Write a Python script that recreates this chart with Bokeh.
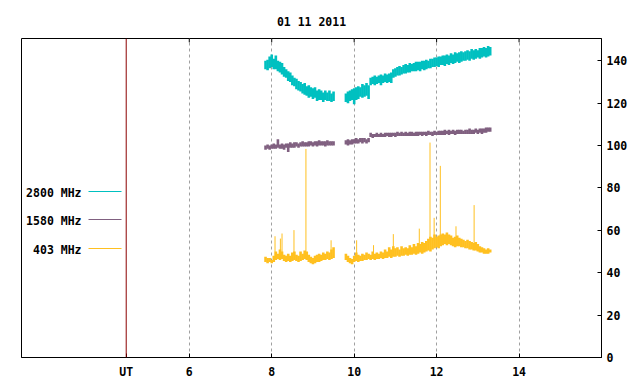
from bokeh.plotting import figure
from bokeh.models import Range1d, FixedTicker, Span, Label, Arrow, ColumnDataSource
from bokeh.embed import file_html
from bokeh.resources import INLINE

TITLE = "01 11 2011"
UT_POS = 4.47
X_TICKS = [6, 8, 10, 12, 14]
Y_TICKS = [0, 20, 40, 60, 80, 100, 120, 140]
SERIES_NAMES = ["2800 MHz", "1580 MHz", "403 MHz"]
SERIES_COLORS = ["#00c0c0", "#806080", "#ffc020"]

# sampling times (UT hours) of the two observing intervals
T1 = [7.85, 7.90, 7.95, 8.00, 8.05, 8.10, 8.15, 8.20, 8.25, 8.30,
      8.35, 8.40, 8.45, 8.50, 8.55, 8.60, 8.65, 8.70, 8.75, 8.80,
      8.85, 8.90, 8.95, 9.00, 9.05, 9.10, 9.15, 9.20, 9.25, 9.30,
      9.35, 9.40, 9.45, 9.50]
T2 = [9.80, 9.85, 9.90, 9.95, 10.00, 10.05, 10.10, 10.15, 10.20, 10.25,
      10.30, 10.35, 10.40, 10.45, 10.50, 10.55, 10.60, 10.65, 10.70, 10.75,
      10.80, 10.85, 10.90, 10.95, 11.00, 11.05, 11.10, 11.15, 11.20, 11.25,
      11.30, 11.35, 11.40, 11.45, 11.50, 11.55, 11.60, 11.65, 11.70, 11.75,
      11.80, 11.85, 11.90, 11.95, 12.00, 12.05, 12.10, 12.15, 12.20, 12.25,
      12.30, 12.35, 12.40, 12.45, 12.50, 12.55, 12.60, 12.65, 12.70, 12.75,
      12.80, 12.85, 12.90, 12.95, 13.00, 13.05, 13.10, 13.15, 13.20, 13.25,
      13.30]

# 2800 MHz: low / high of the noisy band
F2800_LO_1 = [136, 135.5, 136.5, 137, 136, 136, 135, 134.5, 133.5, 132.5,
              132, 130.5, 130, 128.5, 128, 126.5, 126, 125.5, 124.5, 124,
              123.5, 122.5, 123, 122, 122.5, 121, 121.5, 121.5, 120.5, 121.5,
              121, 121, 120.5, 121]
F2800_HI_1 = [140, 140.5, 142, 143, 141, 142.5, 140, 139.5, 139, 137,
              136, 135, 134.5, 133, 132, 131.5, 130.5, 130, 129, 129.5,
              128, 128.5, 127.5, 127, 127.5, 126, 126.5, 126, 125, 126,
              125, 126, 124.5, 125.5]
F2800_LO_2 = [120.5, 120, 121, 121.5, 119.5, 121.5, 122, 123, 122.5, 123,
              123.5, 122, 128.5, 129, 128.5, 129, 129.5, 128.5, 129.5, 130,
              129.5, 130, 129.5, 132, 132.5, 133, 133, 133.5, 134, 134,
              134.5, 134.5, 135, 135, 135, 135.5, 135, 136, 135.5, 136,
              136.5, 136.5, 137, 137, 137.5, 137, 138, 138, 137.5, 138.5,
              138, 139, 138.5, 139, 139.5, 139, 139.5, 140, 140, 140.5,
              140, 141, 140.5, 141, 141.5, 141, 141.5, 142, 141.5, 142,
              142.5]
F2800_HI_2 = [124.5, 125.5, 126, 126.5, 127, 127.5, 128, 127.5, 129, 128.5,
              129.5, 128.5, 132, 132.5, 133, 132.5, 133, 133.5, 133, 134,
              133.5, 134, 134.5, 136, 136.5, 137, 137.5, 137, 138, 138.5,
              138, 139, 138.5, 139, 139.5, 139.5, 139.5, 140, 140, 140.5,
              140, 141, 141, 141.5, 141.5, 142, 142, 142.5, 142.5, 143,
              142.5, 143.5, 143, 144, 143.5, 144, 144.5, 144, 144.5, 145,
              144.5, 145.5, 145, 145.5, 145, 146, 146, 146.5, 146, 147,
              146.5]

# 1580 MHz
F1580_LO_1 = [98, 98.5, 98, 98.5, 98.5, 98.5, 99, 98.5, 98.5, 98,
              99, 97, 99, 99, 99, 99.5, 99, 99.5, 99.5, 99.5,
              99.5, 99.5, 100, 99.5, 100, 99.5, 100, 100, 100, 99.5,
              100, 100, 100, 100]
F1580_HI_1 = [100, 100.5, 100, 100.5, 101, 100.5, 103, 100.5, 101, 100.5,
              101, 101, 101.5, 101, 101.5, 101.5, 101, 101.5, 102, 101.5,
              101.5, 102, 102, 101.5, 102, 102, 102.5, 102, 102, 102,
              102.5, 102, 102, 102]
F1580_LO_2 = [100.5, 100, 100.5, 100.5, 101, 101, 101, 101.5, 101, 101.5,
              101, 101.5, 104, 103.5, 104, 104, 104, 104, 104, 104,
              104.5, 104, 104, 104.5, 104, 104.5, 104.5, 104.5, 104.5, 104.5,
              104.5, 104.5, 104.5, 104.5, 104.5, 104.5, 105, 104.5, 105, 104.5,
              105, 105, 104.5, 105, 105, 105, 105, 105, 105, 105.5,
              105, 105.5, 105.5, 105, 105.5, 105.5, 105.5, 105.5, 105.5, 105.5,
              105.5, 105.5, 105.5, 106, 105.5, 106, 105.5, 106, 106, 106.5,
              106.5]
F1580_HI_2 = [102.5, 103, 102.5, 103, 103, 103.5, 103, 103.5, 103.5, 103.5,
              103, 103.5, 106, 105.5, 105.5, 106, 105.5, 106, 105.5, 106,
              106, 106, 106, 106, 106, 106.5, 106, 106.5, 106, 106.5,
              106, 106.5, 106.5, 106, 106.5, 106.5, 106.5, 106.5, 106.5, 106.5,
              107, 106.5, 106.5, 107, 106.5, 107, 107, 107, 107.5, 107,
              107.5, 107, 107.5, 107, 107.5, 107.5, 107.5, 107, 107.5, 107.5,
              108, 107.5, 107.5, 108, 107.5, 108, 108, 108, 108.5, 108.5,
              108.5]

# 403 MHz
F403_LO_1 = [45, 44.5, 45, 44.5, 45, 46, 46.5, 46, 46.5, 45.5,
             45, 45.5, 45, 45.5, 46, 45.5, 45, 45.5, 46, 46.5,
             46, 45, 44.5, 44, 44.5, 45, 45, 45.5, 46, 46,
             46.5, 46, 46.5, 47]
F403_HI_1 = [47.5, 47, 47, 46, 48, 50, 49, 51, 50, 48.5,
             48, 49, 48, 49.5, 50, 48.5, 48, 50, 49, 50.5,
             50, 48.5, 47.5, 47, 48, 48.5, 49, 48.5, 49.5, 49,
             50, 49.5, 51, 52]
F403_LO_2 = [46, 45, 44.5, 44, 45, 45.5, 45, 45.5, 45.5, 46,
             46, 46.5, 46, 46.5, 46, 46.5, 46.5, 47, 46.5, 47,
             47, 47.5, 47, 47.5, 47.5, 48, 47.5, 48, 48, 48.5,
             48, 48.5, 48.5, 49, 48.5, 49, 49.5, 49, 49.5, 50,
             50.5, 50, 51, 51.5, 52, 51.5, 52.5, 53, 53.5, 53,
             53.5, 53, 52.5, 52, 52.5, 52.5, 52, 52, 51.5, 51.5,
             51, 51, 50.5, 50.5, 50, 49.5, 49.5, 49, 49, 49,
             49.5]
F403_HI_2 = [49, 48, 47, 46.5, 48, 49.5, 48.5, 48, 49, 48.5,
             49.5, 49, 48.5, 50, 49, 49.5, 49, 50, 49.5, 51,
             50, 52, 51, 52.5, 51.5, 52, 51, 52.5, 51.5, 52,
             51.5, 53, 52, 53.5, 52.5, 54, 53.5, 54.5, 54, 55,
             56, 57, 56.5, 58, 57, 57.5, 58, 58.5, 58, 59,
             58, 57.5, 56.5, 57, 57.5, 56.5, 56, 55.5, 55, 55.5,
             55, 54.5, 54, 54.5, 53.5, 52.5, 52, 51.5, 51, 51.5,
             51]
# 403 MHz short bursts
SPIKE_T = [8.08, 8.21, 8.25, 8.54, 8.83, 9.44, 10.06, 10.47, 10.95, 11.58,
           11.84, 11.94, 12.09, 12.47, 12.91]
SPIKE_BASE = [47, 48, 48, 48, 48, 49, 47, 48, 50, 52, 54, 55, 56, 55, 52]
SPIKE_PEAK = [57.2, 56.1, 58.5, 60.1, 98.4, 55.3, 55.3, 53.0, 58.2, 60.8,
              101.4, 65.9, 90.4, 61.9, 71.9]

FONT = "DejaVu Sans Mono"
FSIZE = "11.5px"
Y_MAX = 150.5

p = figure(width=632, height=382, x_range=Range1d(1.93, 16.0), y_range=Range1d(0, Y_MAX),
           output_backend="svg", toolbar_location=None, y_axis_location="right",
           min_border_left=21, min_border_right=31, min_border_top=38, min_border_bottom=25,
           background_fill_color="white", border_fill_color="white",
           outline_line_color="black")

p.title.text = TITLE
p.title.align = "center"
p.title.text_font = FONT
p.title.text_font_style = "bold"
p.title.text_font_size = FSIZE
p.title.text_color = "black"
p.title.standoff = 19

def style_axis(ax):
    ax.major_tick_in = 4
    ax.major_tick_out = 0
    ax.minor_tick_in = 0
    ax.minor_tick_out = 0
    ax.axis_line_color = "black"
    ax.major_tick_line_color = "black"
    ax.major_label_text_font = FONT
    ax.major_label_text_font_style = "bold"
    ax.major_label_text_font_size = FSIZE
    ax.major_label_text_color = "black"

xa = p.xaxis[0]
xa.ticker = FixedTicker(ticks=[UT_POS] + X_TICKS)
xa.major_label_overrides = {UT_POS: "UT"}
style_axis(xa)
xa.major_label_standoff = 7

ya = p.yaxis[0]
ya.ticker = FixedTicker(ticks=Y_TICKS)
style_axis(ya)
ya.major_label_standoff = 5

p.xgrid.ticker = FixedTicker(ticks=X_TICKS)
p.xgrid.grid_line_color = "#a0a0a0"
p.xgrid.grid_line_dash = "3 3"
p.ygrid.visible = False

p.add_layout(Span(location=UT_POS, dimension="height", line_color="#8b0000", line_width=1))

# inward tick marks on the top border (mirror of the time ticks)
top = ColumnDataSource(dict(t=X_TICKS, y0=[Y_MAX] * len(X_TICKS), y1=[Y_MAX - 1.8] * len(X_TICKS)))
p.segment(x0="t", y0="y0", x1="t", y1="y1", source=top, line_color="black", line_width=1)

bands = [
    (F2800_LO_1 + F2800_LO_2, F2800_HI_1 + F2800_HI_2),
    (F1580_LO_1 + F1580_LO_2, F1580_HI_1 + F1580_HI_2),
    (F403_LO_1 + F403_LO_2, F403_HI_1 + F403_HI_2),
]
T = T1 + T2
for (lo, hi), color in zip(bands, SERIES_COLORS):
    src = ColumnDataSource(dict(t=T, lo=lo, hi=hi))
    p.segment(x0="t", y0="lo", x1="t", y1="hi", source=src, line_color=color, line_width=2.6)

spk = ColumnDataSource(dict(t=SPIKE_T, b=SPIKE_BASE, pk=SPIKE_PEAK))
p.segment(x0="t", y0="b", x1="t", y1="pk", source=spk, line_color=SERIES_COLORS[2], line_width=1)

# legend (label left, line right, like the original)
leg_y = [166, 138, 109]
for name, color, yy in zip(SERIES_NAMES, SERIES_COLORS, leg_y):
    p.add_layout(Label(x=60, y=yy - 1, x_units="screen", y_units="screen", text=name,
                       text_align="right", text_baseline="middle", text_font=FONT,
                       text_font_style="bold", text_font_size=FSIZE, text_color="black"))
    p.add_layout(Arrow(x_start=67, y_start=yy, x_end=100, y_end=yy,
                       start_units="screen", end_units="screen", end=None,
                       line_color=color, line_width=1))

open("out.html", "w").write(file_html(p, INLINE))
